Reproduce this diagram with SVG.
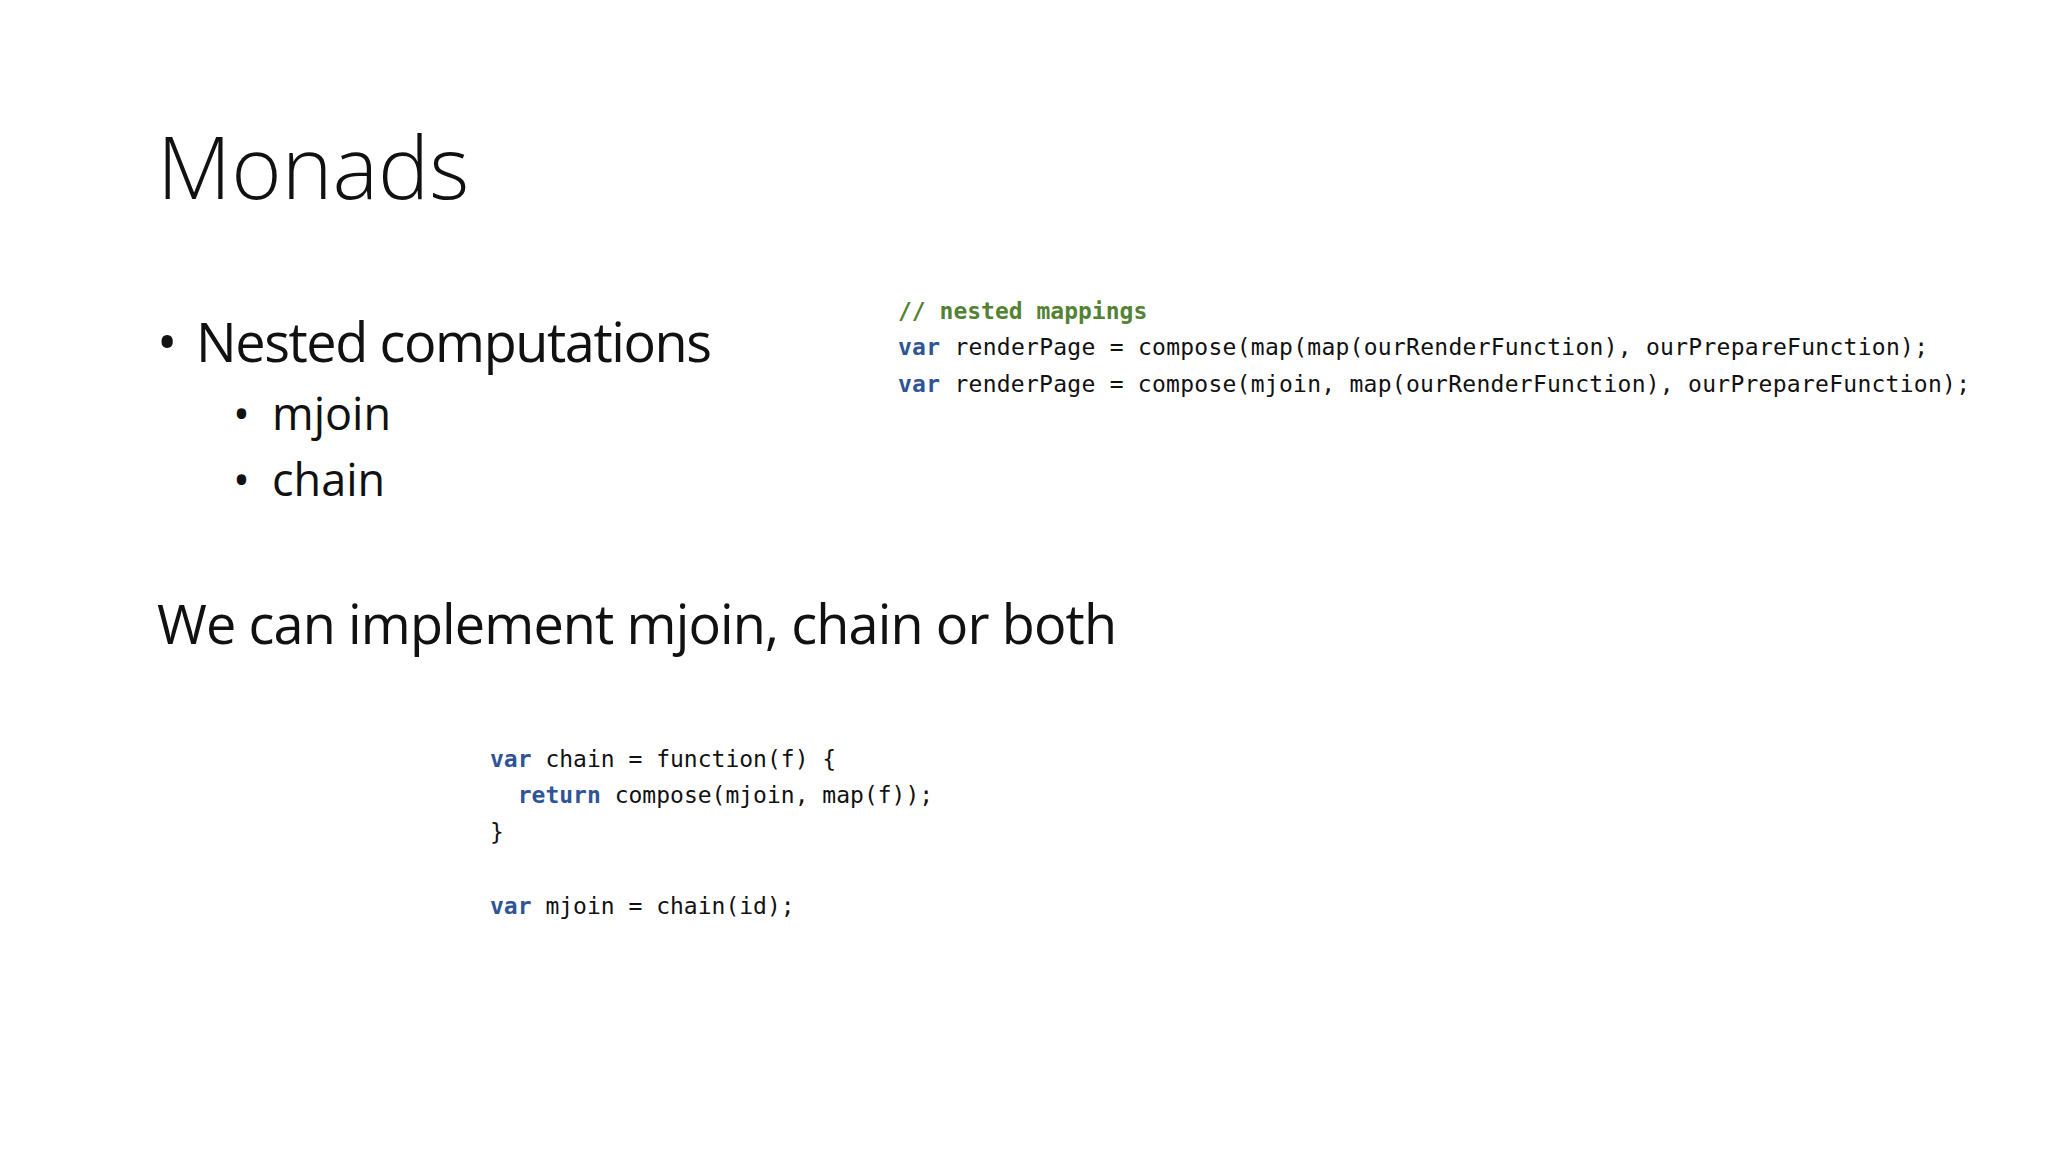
<svg xmlns="http://www.w3.org/2000/svg" width="2048" height="1152" viewBox="0 0 2048 1152">
<style>
.t{font-family:"Open Sans","Liberation Sans",sans-serif;fill:#111}
.c{font-family:"DejaVu Sans Mono","Liberation Mono",monospace;font-size:23px;fill:#111}
.k{fill:#2f5597;font-weight:bold}
.g{fill:#548235;font-weight:bold}
</style>
<rect width="2048" height="1152" fill="#fff"/>
<text class="t" x="157" y="199" font-size="86" font-weight="300">Monads</text>
<text class="t" x="157" y="362" font-size="54">•</text>
<text class="t" x="196" y="362" font-size="54" textLength="516">Nested computations</text>
<text class="t" x="233" y="430" font-size="45">•</text>
<text class="t" x="272" y="430" font-size="45">mjoin</text>
<text class="t" x="233" y="496" font-size="45">•</text>
<text class="t" x="272" y="496" font-size="45">chain</text>
<text class="t" x="157" y="644" font-size="54" textLength="960">We can implement mjoin, chain or both</text>
<text class="c" x="898" y="319"><tspan class="g">// nested mappings</tspan></text>
<text class="c" x="898" y="355" textLength="1030"><tspan class="k">var</tspan> renderPage = compose(map(map(ourRenderFunction), ourPrepareFunction);</text>
<text class="c" x="898" y="392" textLength="1072"><tspan class="k">var</tspan> renderPage = compose(mjoin, map(ourRenderFunction), ourPrepareFunction);</text>
<text class="c" x="490" y="767"><tspan class="k">var</tspan> chain = function(f) {</text>
<text class="c" x="490" y="803" xml:space="preserve">  <tspan class="k">return</tspan> compose(mjoin, map(f));</text>
<text class="c" x="490" y="840">}</text>
<text class="c" x="490" y="914"><tspan class="k">var</tspan> mjoin = chain(id);</text>
</svg>
